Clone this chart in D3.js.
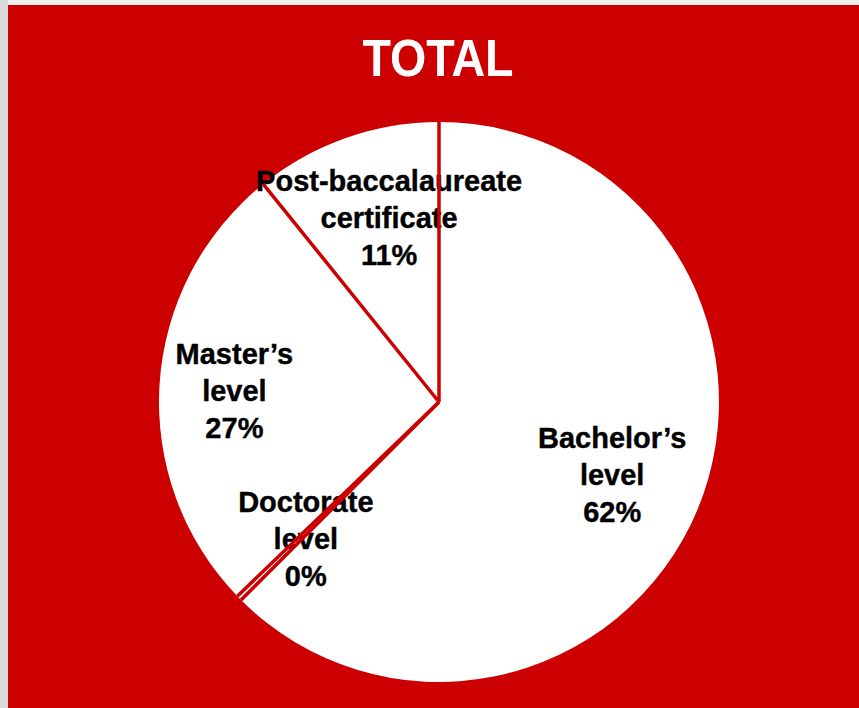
<!DOCTYPE html>
<html>
<head>
<meta charset="utf-8">
<script src="https://cdn.jsdelivr.net/npm/d3@7"></script>
<style>
  html, body { margin: 0; padding: 0; background: #eeeeee; }
  svg { display: block; }
</style>
</head>
<body>
<svg id="chart" width="859" height="708"></svg>
<script>
// ---- data ----
const title = "TOTAL";
const categories = ["Bachelor\u2019s level", "Doctorate level", "Master\u2019s level", "Post-baccalaureate certificate"];
const labelLines = [["Bachelor\u2019s", "level"], ["Doctorate", "level"], ["Master\u2019s", "level"], ["Post-baccalaureate", "certificate"]];
const values = [62.5, 0.3, 26.4, 10.8];
const pctLabels = ["62%", "0%", "27%", "11%"];

// ---- layout / style ----
const W = 859, H = 708;
const red = "#cc0000";
const cx = 439, cy = 402, R = 280;
const labelR = 195;
const labelOffsets = [[-7, -2], [6, 0], [-10, 1], [15, 0]];
const lineGap = 37;

const svg = d3.select("#chart");
svg.append("rect").attr("x", 0).attr("y", 0).attr("width", W).attr("height", H).attr("fill", "#eeeeee");
svg.append("rect").attr("x", 0).attr("y", 0).attr("width", 8).attr("height", H).attr("fill", "#d9d9d9");
svg.append("rect").attr("x", 8).attr("y", 5).attr("width", W - 8).attr("height", H - 5).attr("fill", red);

svg.append("text")
  .attr("x", 438).attr("y", 76)
  .attr("text-anchor", "middle")
  .attr("font-family", "'Liberation Sans', Arial, sans-serif")
  .attr("font-weight", "bold")
  .attr("font-size", 52)
  .attr("textLength", 151)
  .attr("lengthAdjust", "spacingAndGlyphs")
  .attr("fill", "#ffffff")
  .text(title);

const g = svg.append("g").attr("transform", `translate(${cx},${cy})`);

const pie = d3.pie().sort(null).startAngle(0).endAngle(2 * Math.PI);
const arcs = pie(values);
const arc = d3.arc().innerRadius(0).outerRadius(R);
const labelArc = d3.arc().innerRadius(labelR).outerRadius(labelR);

g.selectAll("path.slice")
  .data(arcs)
  .join("path")
  .attr("class", "slice")
  .attr("d", arc)
  .attr("fill", "#ffffff");

// labels
const labels = g.selectAll("g.label")
  .data(arcs)
  .join("g")
  .attr("class", "label")
  .attr("transform", (d, i) => {
    const c = labelArc.centroid(d);
    return `translate(${c[0] + labelOffsets[i][0]},${c[1] + labelOffsets[i][1]})`;
  });

labels.append("text")
  .attr("text-anchor", "middle")
  .attr("font-family", "'Liberation Sans', Arial, sans-serif")
  .attr("font-weight", "bold")
  .attr("font-size", 29)
  .attr("fill", "#000000")
  .attr("stroke", "#000000")
  .attr("stroke-width", 0.4)
  .each(function(d, i) {
    const lines = labelLines[i].concat([pctLabels[i]]);
    const t = d3.select(this);
    lines.forEach((ln, j) => {
      t.append("tspan")
        .attr("x", 0)
        .attr("y", (j - 1) * lineGap + 10)
        .text(ln);
    });
  });

// slice boundary lines (drawn on top)
g.selectAll("line.sep")
  .data(arcs)
  .join("line")
  .attr("class", "sep")
  .attr("x1", 0).attr("y1", 0)
  .attr("x2", d => R * Math.sin(d.startAngle))
  .attr("y2", d => -R * Math.cos(d.startAngle))
  .attr("stroke", red)
  .attr("stroke-width", 3.5);
</script>
</body>
</html>
